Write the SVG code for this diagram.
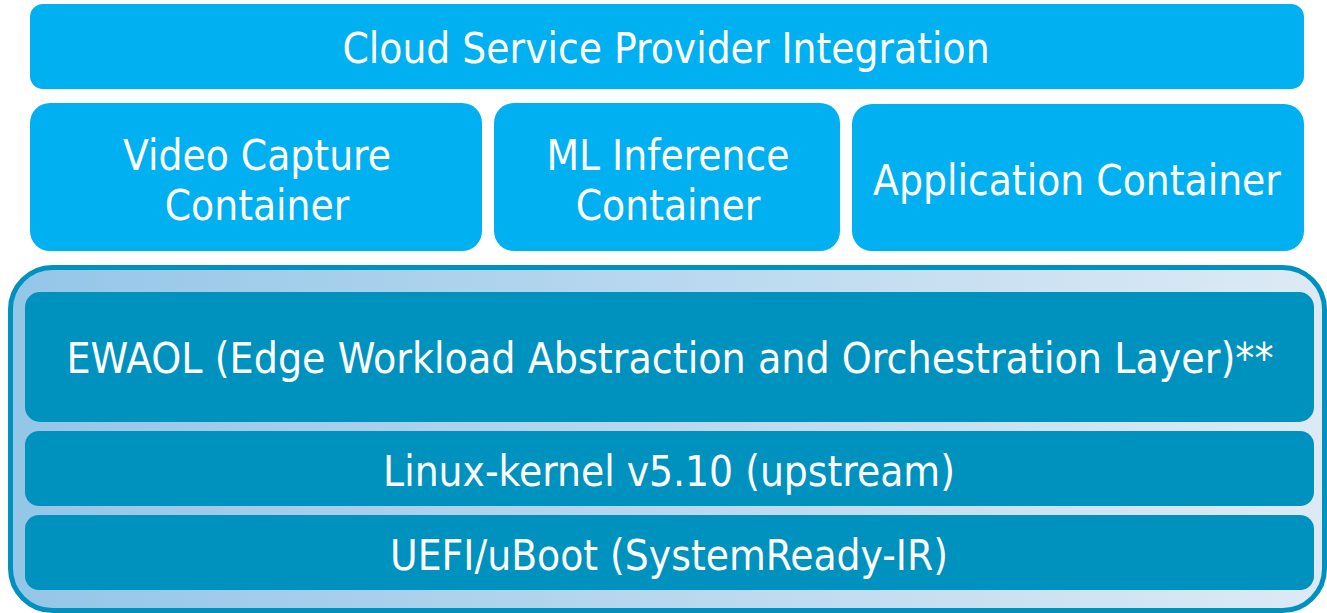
<svg xmlns="http://www.w3.org/2000/svg" width="1327" height="613" viewBox="0 0 1327 613">
<defs>
<linearGradient id="band" x1="0" y1="0" x2="1" y2="0">
<stop offset="0" stop-color="#94C6E8"/>
<stop offset="1" stop-color="#DDEAF5"/>
</linearGradient>
<style>
.top{fill:#00B0F0}
.low{fill:#0092BF}
text{font-family:"DejaVu Sans Condensed","DejaVu Sans",sans-serif;fill:#FFFFFF;text-anchor:middle;font-size:42px}
</style>
</defs>
<g id="cloud"><rect class="top" x="30" y="4" width="1274" height="85" rx="13"/><text x="666" y="63">Cloud Service Provider Integration</text></g>
<g id="video"><rect class="top" x="30" y="103" width="452" height="148" rx="20"/><text x="257" y="170">Video Capture</text><text x="257" y="220">Container</text></g>
<g id="ml"><rect class="top" x="494" y="103" width="346" height="148" rx="20"/><text x="668" y="170">ML Inference</text><text x="668" y="220">Container</text></g>
<g id="app"><rect class="top" x="852" y="104" width="452" height="147" rx="20"/><text x="1077" y="195">Application Container</text></g>
<g id="platform"><rect x="10.5" y="267.5" width="1314" height="343" rx="42" fill="url(#band)" stroke="#0092BF" stroke-width="5"/></g>
<g id="ewaol"><rect class="low" x="25" y="292" width="1289" height="130" rx="15"/><text x="670" y="373" style="font-size:42.4px">EWAOL (Edge Workload Abstraction and Orchestration Layer)**</text></g>
<g id="linux"><rect class="low" x="25" y="431" width="1289" height="75" rx="14"/><text x="669" y="486">Linux-kernel v5.10 (upstream)</text></g>
<g id="uefi"><rect class="low" x="25" y="515" width="1289" height="75" rx="14"/><text x="669" y="570">UEFI/uBoot (SystemReady-IR)</text></g>
<g id="connectors"/>
</svg>
